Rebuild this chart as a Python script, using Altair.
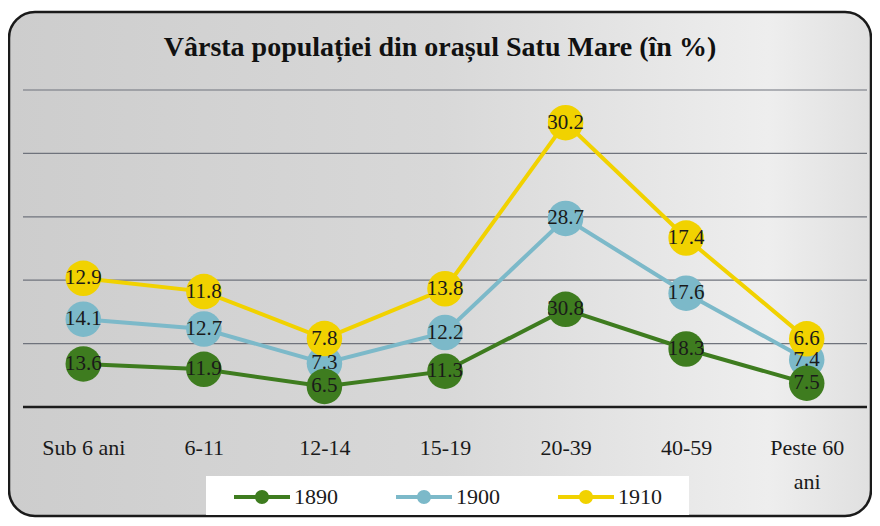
import altair as alt
import pandas as pd

TITLE = "Vârsta populației din orașul Satu Mare (în %)"
CATEGORIES = ["Sub 6 ani", "6-11", "12-14", "15-19", "20-39", "40-59", "Peste 60 ani"]
YEARS = ["1890", "1900", "1910"]
VALUES_1890 = [13.6, 11.9, 6.5, 11.3, 30.8, 18.3, 7.5]
VALUES_1900 = [14.1, 12.7, 7.3, 12.2, 28.7, 17.6, 7.4]
VALUES_1910 = [12.9, 11.8, 7.8, 13.8, 30.2, 17.4, 6.6]
GRID_VALUES = [20, 40, 60, 80, 100]
BASELINE = [0]
COLORS = ["#3e7c1f", "#7cb9c9", "#f1d200"]
DRAW_ORDER = ["1900", "1890", "1910"]

FONT = "Liberation Serif"
W, H = 844, 317
PAD = {"left": 15, "top": 82, "right": 5, "bottom": 111}

series = {"1890": VALUES_1890, "1900": VALUES_1900, "1910": VALUES_1910}
rows = []
for yr in DRAW_ORDER:
    for i, (c, v) in enumerate(zip(CATEGORIES, series[yr])):
        rows.append({"cat": c, "idx": i, "year": yr, "rank": YEARS.index(yr), "value": v})
df = pd.DataFrame(rows)

x_enc = alt.X(
    "cat:N",
    sort=CATEGORIES,
    scale=alt.Scale(type="point", padding=0.5),
    axis=alt.Axis(
        title=None, domain=False, ticks=False, labelAngle=0, labelFont=FONT,
        labelFontSize=22, labelColor="#1a1a1a", labelPadding=30, labelLineHeight=34,
        labelOverlap=False,
        labelExpr="datum.label == 'Peste 60 ani' ? ['Peste 60', 'ani'] : datum.label",
        zindex=1,
    ),
)
y_scale = alt.Scale(domain=[0, 100], nice=False, zero=True)
color_scale = alt.Scale(domain=YEARS, range=COLORS)

# line-with-dot legend symbol; trailing move-to reserves room after the label
LEGEND_PATH = ("M-1,-0.14L3,-0.14L3,0.14L-1,0.14Z "
               "M1.5,0A0.5,0.5 0 1,1 0.5,0A0.5,0.5 0 1,1 1.5,0Z M7.8,0")

legend = alt.Legend(
    title=" ", titleOrient="left", titleFontSize=22, titlePadding=21,
    orient="none", legendX=183, legendY=386, direction="horizontal",
    symbolType=LEGEND_PATH, symbolSize=784, symbolStrokeWidth=0,
    symbolOpacity=1, labelFont=FONT, labelFontSize=22, labelColor="#1a1a1a",
    labelOffset=32, columnPadding=38, fillColor="white", padding=7, zindex=2,
)

bg = alt.Chart(pd.DataFrame({"k": [0]})).mark_rect(
    cornerRadius=26, stroke="#1a1a1a", strokeWidth=2.5,
    fill=alt.Gradient(
        gradient="linear", x1=0, y1=0, x2=1, y2=0,
        stops=[
            alt.GradientStop(color="#cdcdcd", offset=0),
            alt.GradientStop(color="#d8d8d8", offset=0.5),
            alt.GradientStop(color="#eeeeee", offset=0.88),
            alt.GradientStop(color="#e0e0e0", offset=1),
        ],
    ),
).encode(x=alt.value(-14), x2=alt.value(848), y=alt.value(-78), y2=alt.value(426))

grid = alt.Chart(pd.DataFrame({"g": GRID_VALUES})).mark_rule(
    color="#6f737c", strokeWidth=1.2
).encode(y=alt.Y("g:Q", scale=y_scale, axis=None))

base_rule = alt.Chart(pd.DataFrame({"g": BASELINE})).mark_rule(
    color="#1c1c1c", strokeWidth=2.5
).encode(y=alt.Y("g:Q", scale=y_scale, axis=None))

stacked = alt.Chart(df).transform_stack(
    stack="value", groupby=["cat"], as_=["y0", "y1"],
    sort=[alt.SortField("rank", order="ascending")],
)

lines = stacked.mark_line(strokeWidth=4).encode(
    x=x_enc,
    y=alt.Y("y1:Q", scale=y_scale, axis=None),
    color=alt.Color("year:N", scale=color_scale, legend=legend),
    order=alt.Order("idx:Q"),
)

points = stacked.mark_circle(size=1260, opacity=1).encode(
    x=x_enc,
    y=alt.Y("y1:Q", scale=y_scale, axis=None),
    color=alt.Color("year:N", scale=color_scale, legend=legend),
)

labels = stacked.mark_text(
    font=FONT, fontSize=21, color="#1a1a1a", align="center", baseline="middle"
).encode(
    x=x_enc,
    y=alt.Y("y1:Q", scale=y_scale, axis=None),
    text=alt.Text("value:Q", format=".1f"),
)

chart = alt.layer(bg, grid, base_rule, lines, points, labels).properties(
    width=W, height=H, padding=PAD,
    autosize=alt.AutoSizeParams(type="none"),
    background="white",
    title=alt.TitleParams(
        text=TITLE, font=FONT, fontSize=28, fontWeight="bold", color="#111111",
        anchor="middle", frame="group", offset=-73, dx=-5, baseline="alphabetic",
    ),
).configure_view(strokeWidth=0)

chart.save("out.html", embed_options={"renderer": "svg", "actions": False})
